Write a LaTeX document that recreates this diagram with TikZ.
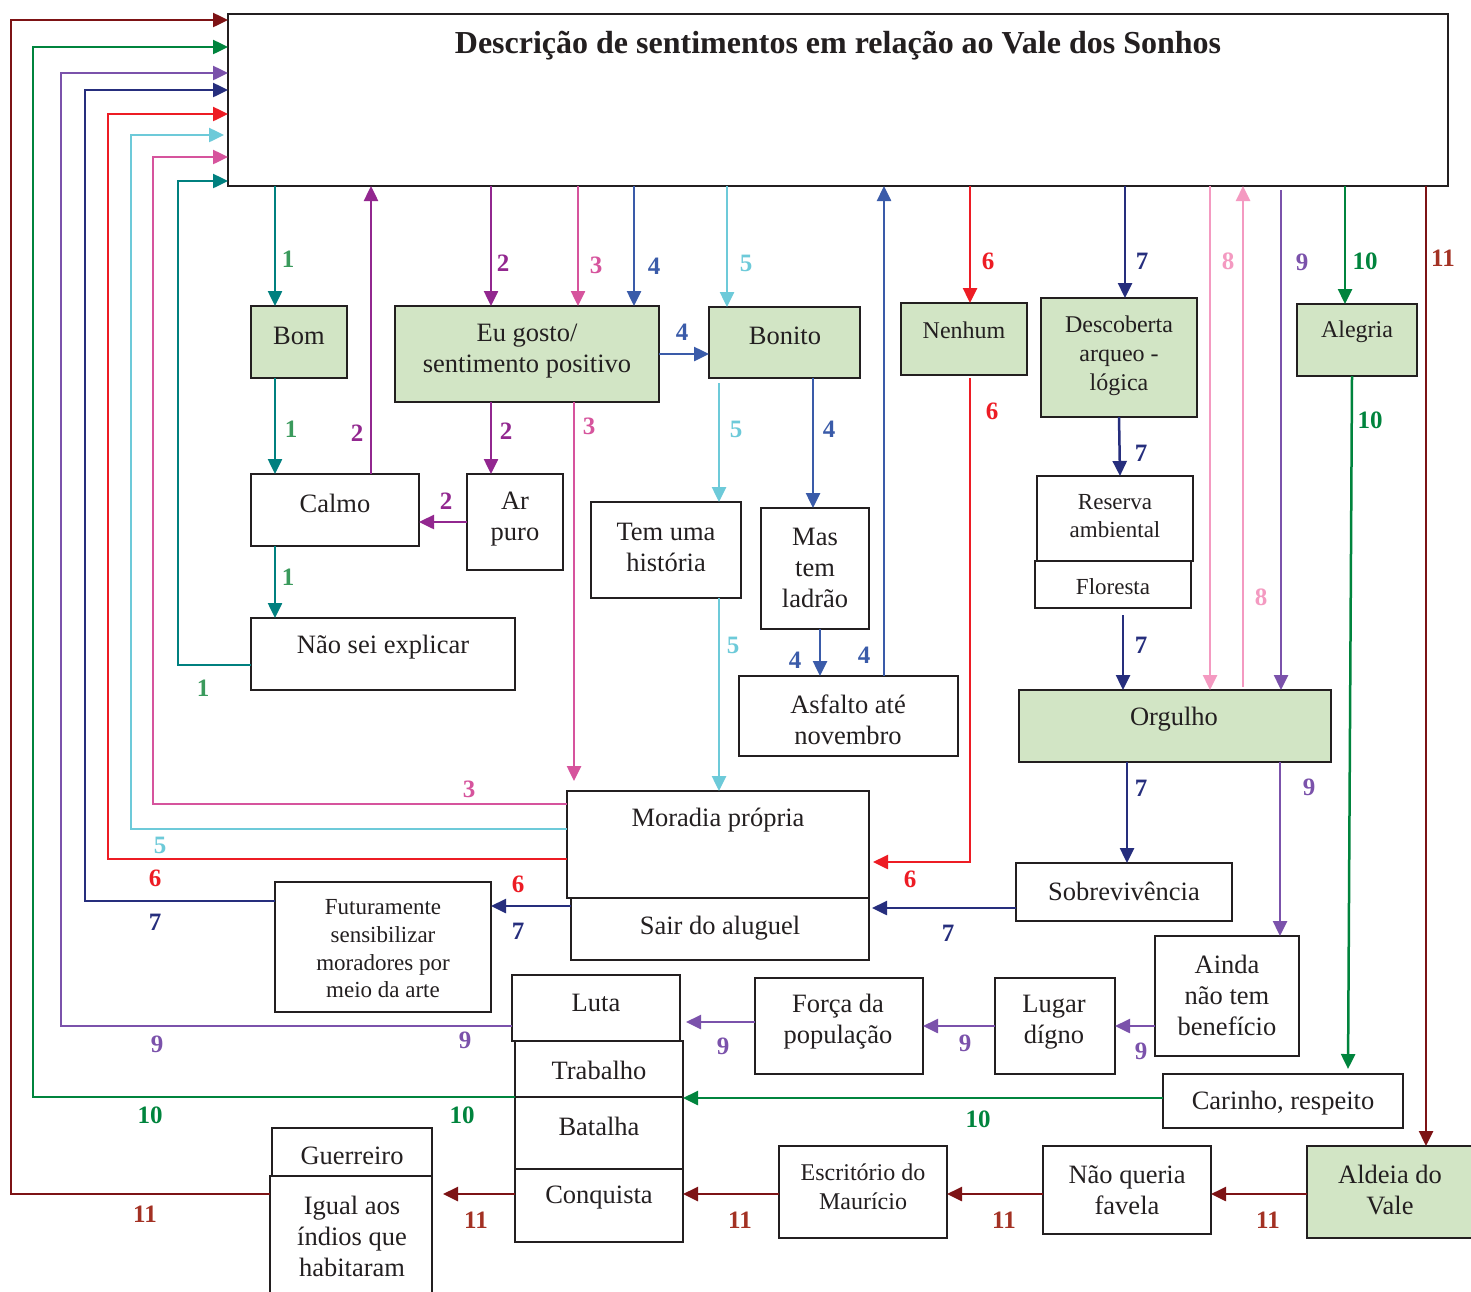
\documentclass[tikz,border=0pt]{standalone}
\usepackage{fontspec}
\setmainfont{Liberation Serif}
\usetikzlibrary{arrows.meta,fit}

\definecolor{ink}{HTML}{231F20}
\definecolor{boxgreen}{HTML}{D2E5C5}
\definecolor{cA}{HTML}{00807F}
\definecolor{cAl}{HTML}{3A9A5C}
\definecolor{cB}{HTML}{92278F}
\definecolor{cC}{HTML}{D6549D}
\definecolor{cD}{HTML}{3A5BA9}
\definecolor{cE}{HTML}{6DCAD9}
\definecolor{cF}{HTML}{ED1C24}
\definecolor{cG}{HTML}{262E7D}
\definecolor{cH}{HTML}{F49AC1}
\definecolor{cI}{HTML}{7B52AB}
\definecolor{cJ}{HTML}{00843D}
\definecolor{cK}{HTML}{7D1315}
\definecolor{cKl}{HTML}{A33123}

\tikzset{
  box/.style={draw=ink, line width=2pt, inner sep=0pt, outer sep=0pt},
  gbox/.style={box, fill=boxgreen},
  wbox/.style={box, fill=white},
  txt/.style={font=\fontsize{26.5}{31}\selectfont, text=ink, align=center, inner sep=0pt, yshift=-2pt},
  stxt/.style={font=\fontsize{24}{29}\selectfont, text=ink, align=center, inner sep=0pt, yshift=-2pt},
  lab/.style={font=\fontsize{25}{25}\selectfont\bfseries, inner sep=0pt},
  link/.style={line width=2.5pt, -{Triangle[length=15pt,width=14pt]}},
}

% box: style, name, top-left corner, bottom-right corner
\newcommand\mkbox[4]{\node[#1, fit={(#3) (#4)}] (#2) {};}
% numbered label: name, colour, position, text
\newcommand\lbl[4]{\node[lab, text=#2] (#1) at (#3) {#4};}

\begin{document}
\begin{tikzpicture}[x=1pt, y=-1pt]
\clip (0,0) rectangle (1471,1291);
\fill[white] (0,0) rectangle (1471,1291);

% ---------- boxes ----------
\mkbox{wbox}{main}{228,14}{1448,186}
\node[font=\fontsize{32}{36}\selectfont\bfseries, text=ink, inner sep=0pt] (title) at (838,46)
  {Descrição de sentimentos em relação ao Vale dos Sonhos};

\mkbox{gbox}{bom}{251,306}{347,378}
\mkbox{gbox}{eugosto}{395,306}{659,402}
\mkbox{gbox}{bonito}{709,307}{860,378}
\mkbox{gbox}{nenhum}{901,303}{1027,375}
\mkbox{gbox}{descob}{1041,298}{1197,417}
\mkbox{gbox}{alegria}{1297,304}{1417,376}
\mkbox{gbox}{orgulho}{1019,690}{1331,762}
\mkbox{gbox}{aldeia}{1307,1146}{1476,1238}

\mkbox{wbox}{calmo}{251,474}{419,546}
\mkbox{wbox}{arpuro}{467,474}{563,570}
\mkbox{wbox}{naosei}{251,618}{515,690}
\mkbox{wbox}{temuma}{591,502}{741,598}
\mkbox{wbox}{mas}{761,508}{869,629}
\mkbox{wbox}{asfalto}{739,676}{958,756}
\mkbox{wbox}{reserva}{1037,476}{1193,561}
\mkbox{wbox}{floresta}{1035,561}{1191,608}
\mkbox{wbox}{moradia}{567,791}{869,898}
\mkbox{wbox}{sair}{571,898}{869,960}
\mkbox{wbox}{sobrev}{1016,863}{1232,921}
\mkbox{wbox}{futur}{275,882}{491,1012}
\mkbox{wbox}{ainda}{1155,936}{1299,1056}
\mkbox{wbox}{lugar}{995,978}{1115,1074}
\mkbox{wbox}{forca}{755,978}{923,1074}
\mkbox{wbox}{luta}{512,975}{680,1041}
\mkbox{wbox}{trabalho}{515,1041}{683,1097}
\mkbox{wbox}{batalha}{515,1097}{683,1169}
\mkbox{wbox}{conquista}{515,1169}{683,1242}
\mkbox{wbox}{carinho}{1163,1074}{1403,1128}
\mkbox{wbox}{guerreiro}{272,1128}{432,1176}
\mkbox{wbox}{igual}{270,1176}{432,1310}
\mkbox{wbox}{escrit}{779,1146}{947,1238}
\mkbox{wbox}{naoqueria}{1043,1146}{1211,1234}

% ---------- box texts ----------
\node[txt] (t-bom) at (299,334) {Bom};
\node[txt] (t-eugosto) at (527,349) {Eu gosto/\\sentimento positivo};
\node[txt] (t-bonito) at (785,334) {Bonito};
\node[stxt] (t-nenhum) at (964,328) {Nenhum};
\node[stxt] (t-descob) at (1119,354) {Descoberta\\arqueo -\\lógica};
\node[stxt] (t-alegria) at (1357,330) {Alegria};
\node[txt] (t-calmo) at (335,501) {Calmo};
\node[txt] (t-arpuro) at (515,517) {Ar\\puro};
\node[txt] (t-naosei) at (383,645) {Não sei explicar};
\node[txt] (t-temuma) at (666,545) {Tem uma\\história};
\node[txt] (t-mas) at (815,566) {Mas\\tem\\ladrão};
\node[stxt, font=\fontsize{23}{28}\selectfont] (t-reserva) at (1115,514) {Reserva\\ambiental};
\node[stxt, font=\fontsize{23}{28}\selectfont] (t-floresta) at (1113,585) {Floresta};
\node[txt] (t-asfalto) at (848,718) {Asfalto até\\novembro};
\node[txt] (t-orgulho) at (1174,717) {Orgulho};
\node[txt] (t-moradia) at (718,818) {Moradia própria};
\node[txt] (t-sair) at (720,926) {Sair do aluguel};
\node[txt] (t-sobrev) at (1124,889) {Sobrevivência};
\node[stxt, font=\fontsize{23}{27.7}\selectfont] (t-futur) at (383,947) {Futuramente\\sensibilizar\\moradores por\\meio da arte};
\node[txt] (t-ainda) at (1227,993) {Ainda\\não tem\\benefício};
\node[txt] (t-lugar) at (1054,1020) {Lugar\\dígno};
\node[txt] (t-forca) at (838,1020) {Força da\\população};
\node[txt] (t-luta) at (596,1001) {Luta};
\node[txt] (t-trabalho) at (599,1068) {Trabalho};
\node[txt] (t-batalha) at (599,1124) {Batalha};
\node[txt] (t-conquista) at (599,1196) {Conquista};
\node[txt] (t-carinho) at (1283,1101) {Carinho, respeito};
\node[txt] (t-guerreiro) at (352,1154) {Guerreiro};
\node[txt] (t-igual) at (352,1234) {Igual aos\\índios que\\habitaram};
\node[stxt] (t-escrit) at (863,1185) {Escritório do\\Maurício};
\node[txt] (t-naoqueria) at (1127,1188) {Não queria\\favela};
\node[txt] (t-aldeia) at (1390,1188) {Aldeia do\\Vale};

% ---------- path 1 ----------
\draw[link,cA] (main.south -| 275,0) -- (bom.north -| 275,0);
\draw[link,cA] (bom.south -| 275,0) -- (calmo.north -| 275,0);
\draw[link,cA] (calmo.south -| 275,0) -- (naosei.north -| 275,0);
\draw[link,cA] (naosei.west |- 0,665) -- (178,665) -- (178,181) -- (main.west |- 0,181);

% ---------- path 2 ----------
\draw[link,cB] (main.south -| 491,0) -- (eugosto.north -| 491,0);
\draw[link,cB] (eugosto.south -| 491,0) -- (arpuro.north -| 491,0);
\draw[link,cB] (arpuro.west |- 0,522) -- (calmo.east |- 0,522);
\draw[link,cB] (calmo.north -| 371,0) -- (main.south -| 371,0);

% ---------- path 3 ----------
\draw[link,cC] (main.south -| 578,0) -- (eugosto.north -| 578,0);
\draw[link,cC,shorten >=10pt] (eugosto.south -| 574,0) -- (moradia.north -| 574,0);
\draw[link,cC] (moradia.west |- 0,804) -- (153,804) -- (153,157) -- (main.west |- 0,157);

% ---------- path 4 ----------
\draw[link,cD] (main.south -| 634,0) -- (eugosto.north -| 634,0);
\draw[link,cD] (eugosto.east |- 0,354) -- (bonito.west |- 0,354);
\draw[link,cD] (bonito.south -| 813,0) -- (mas.north -| 813,0);
\draw[link,cD] (mas.south -| 820,0) -- (asfalto.north -| 820,0);
\draw[link,cD] (asfalto.north -| 884,0) -- (main.south -| 884,0);

% ---------- path 5 ----------
\draw[link,cE] (main.south -| 727,0) -- (bonito.north -| 727,0);
\draw[link,cE,shorten <=5pt] (bonito.south -| 719,0) -- (temuma.north -| 719,0);
\draw[link,cE] (temuma.south -| 719,0) -- (moradia.north -| 719,0);
\draw[link,cE,shorten >=4pt] (moradia.west |- 0,829) -- (131,829) -- (131,135) -- (main.west |- 0,135);

% ---------- path 6 ----------
\draw[link,cF] (main.south -| 970,0) -- (nenhum.north -| 970,0);
\draw[link,cF,shorten <=3pt,shorten >=4pt] (nenhum.south -| 970,0) -- (970,862) -- (moradia.east |- 0,862);
\draw[link,cF] (moradia.west |- 0,859) -- (108,859) -- (108,114) -- (main.west |- 0,114);

% ---------- path 7 ----------
\draw[link,cG] (main.south -| 1125,0) -- (descob.north -| 1125,0);
\draw[link,cG] (descob.south -| 1119,0) -- (reserva.north -| 1120,0);
\draw[link,cG,shorten <=7pt] (floresta.south -| 1123,0) -- (orgulho.north -| 1123,0);
\draw[link,cG] (orgulho.south -| 1127,0) -- (sobrev.north -| 1127,0);
\draw[link,cG,shorten >=3pt] (sobrev.west |- 0,908) -- (sair.east |- 0,908);
\draw[link,cG] (sair.west |- 0,906) -- (futur.east |- 0,906);
\draw[link,cG] (futur.west |- 0,901) -- (85,901) -- (85,90) -- (main.west |- 0,90);

% ---------- path 8 ----------
\draw[link,cH] (main.south -| 1210,0) -- (orgulho.north -| 1210,0);
\draw[link,cH,shorten <=3pt] (orgulho.north -| 1243,0) -- (main.south -| 1243,0);

% ---------- path 9 ----------
\draw[link,cI,shorten <=4pt] (main.south -| 1281,0) -- (orgulho.north -| 1281,0);
\draw[link,cI] (orgulho.south -| 1280,0) -- (ainda.north -| 1280,0);
\draw[link,cI] (ainda.west |- 0,1026) -- (lugar.east |- 0,1026);
\draw[link,cI] (lugar.west |- 0,1026) -- (forca.east |- 0,1026);
\draw[link,cI,shorten >=6pt] (forca.west |- 0,1022) -- (luta.east |- 0,1022);
\draw[link,cI] (luta.west |- 0,1026) -- (61,1026) -- (61,73) -- (main.west |- 0,73);

% ---------- path 10 ----------
\draw[link,cJ] (main.south -| 1345,0) -- (alegria.north -| 1345,0);
\draw[link,cJ,shorten >=5pt] (alegria.south -| 1352,0) -- (carinho.north -| 1348,0);
\draw[link,cJ] (carinho.west |- 0,1098) -- (batalha.east |- 0,1098);
\draw[link,cJ] (batalha.north west) -- (33,1097) -- (33,47) -- (main.west |- 0,47);

% ---------- path 11 ----------
\draw[link,cK] (main.south -| 1426,0) -- (aldeia.north -| 1426,0);
\draw[link,cK] (aldeia.west |- 0,1194) -- (naoqueria.east |- 0,1194);
\draw[link,cK] (naoqueria.west |- 0,1194) -- (escrit.east |- 0,1194);
\draw[link,cK] (escrit.west |- 0,1194) -- (conquista.east |- 0,1194);
\draw[link,cK,shorten >=11pt] (conquista.west |- 0,1194) -- (igual.east |- 0,1194);
\draw[link,cK] (igual.west |- 0,1194) -- (11,1194) -- (11,20) -- (main.west |- 0,20);

% ---------- labels ----------
\lbl{n1a}{cAl}{288,259}{1}
\lbl{n1b}{cAl}{291,429}{1}
\lbl{n1c}{cAl}{288,577}{1}
\lbl{n1d}{cAl}{203,688}{1}
\lbl{n2a}{cB}{357,433}{2}
\lbl{n2b}{cB}{503,263}{2}
\lbl{n2c}{cB}{506,431}{2}
\lbl{n2d}{cB}{446,501}{2}
\lbl{n3a}{cC}{596,265}{3}
\lbl{n3b}{cC}{589,426}{3}
\lbl{n3c}{cC}{469,789}{3}
\lbl{n4a}{cD}{654,266}{4}
\lbl{n4b}{cD}{682,332}{4}
\lbl{n4c}{cD}{829,429}{4}
\lbl{n4d}{cD}{795,660}{4}
\lbl{n4e}{cD}{864,655}{4}
\lbl{n5a}{cE}{746,263}{5}
\lbl{n5b}{cE}{736,429}{5}
\lbl{n5c}{cE}{733,645}{5}
\lbl{n5d}{cE}{160,845}{5}
\lbl{n6a}{cF}{988,261}{6}
\lbl{n6b}{cF}{992,411}{6}
\lbl{n6c}{cF}{910,879}{6}
\lbl{n6d}{cF}{155,878}{6}
\lbl{n6e}{cF}{518,884}{6}
\lbl{n7a}{cG}{1142,261}{7}
\lbl{n7b}{cG}{1141,453}{7}
\lbl{n7c}{cG}{1141,645}{7}
\lbl{n7d}{cG}{1141,788}{7}
\lbl{n7e}{cG}{948,933}{7}
\lbl{n7f}{cG}{518,931}{7}
\lbl{n7g}{cG}{155,922}{7}
\lbl{n8a}{cH}{1228,261}{8}
\lbl{n8b}{cH}{1261,597}{8}
\lbl{n9a}{cI}{1302,262}{9}
\lbl{n9b}{cI}{1309,787}{9}
\lbl{n9c}{cI}{1141,1051}{9}
\lbl{n9d}{cI}{965,1043}{9}
\lbl{n9e}{cI}{723,1046}{9}
\lbl{n9f}{cI}{465,1040}{9}
\lbl{n9g}{cI}{157,1044}{9}
\lbl{n10a}{cJ}{1365,261}{10}
\lbl{n10b}{cJ}{1370,420}{10}
\lbl{n10c}{cJ}{978,1119}{10}
\lbl{n10d}{cJ}{462,1115}{10}
\lbl{n10e}{cJ}{150,1115}{10}
\lbl{n11a}{cKl}{1443,258}{11}
\lbl{n11b}{cKl}{1268,1220}{11}
\lbl{n11c}{cKl}{1004,1220}{11}
\lbl{n11d}{cKl}{740,1220}{11}
\lbl{n11e}{cKl}{476,1220}{11}
\lbl{n11f}{cKl}{145,1214}{11}
\end{tikzpicture}
\end{document}
